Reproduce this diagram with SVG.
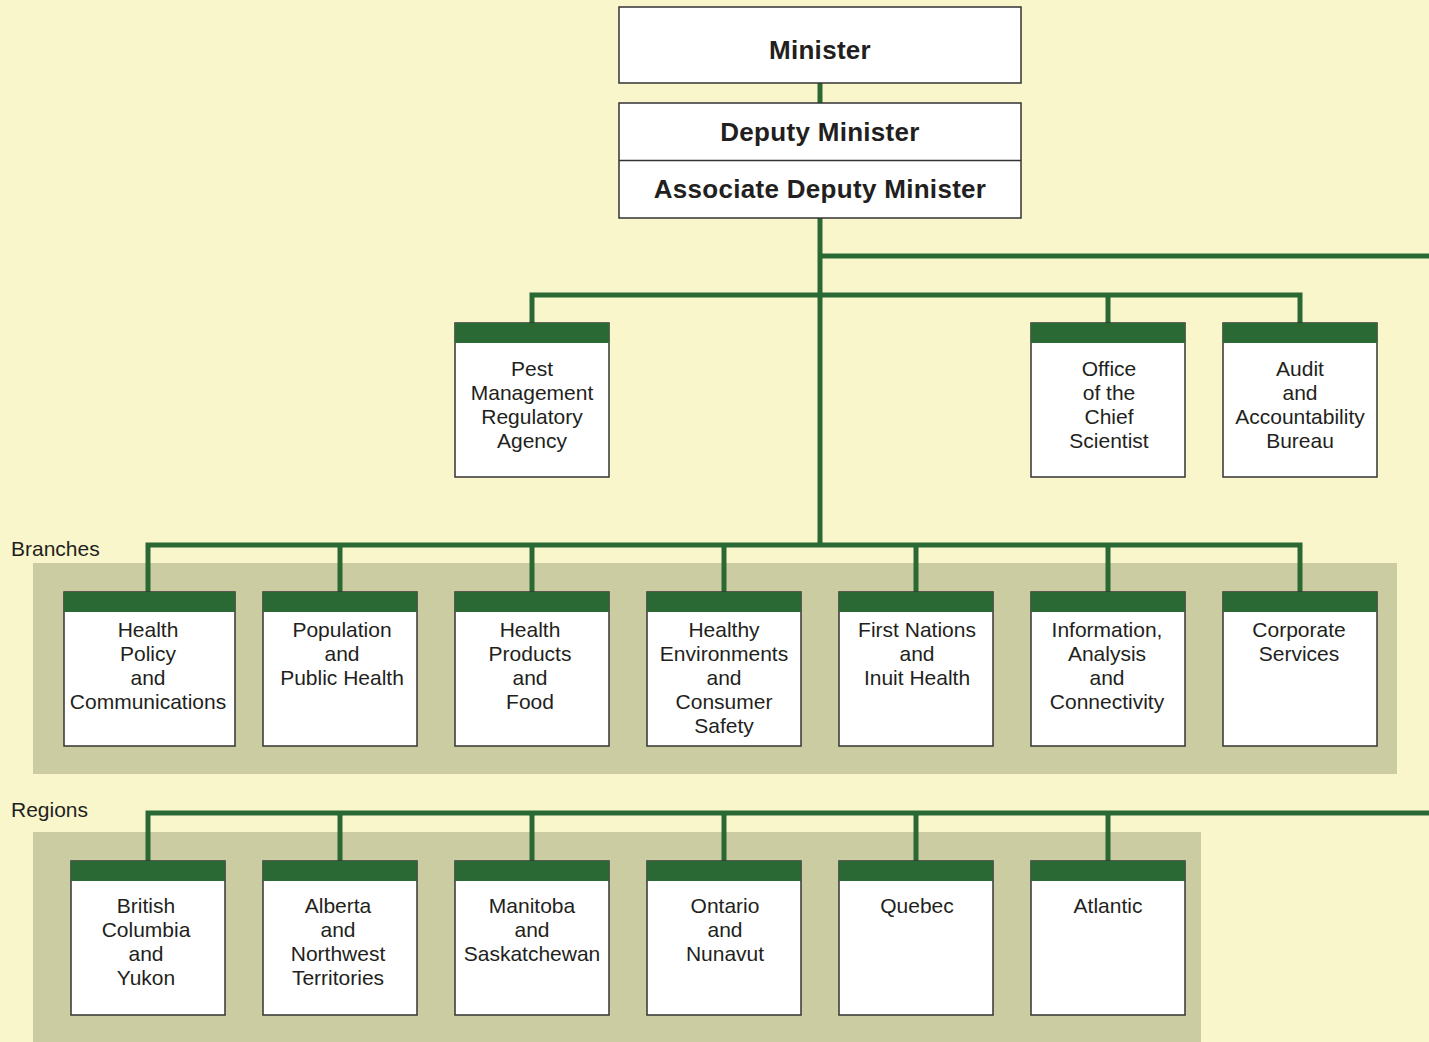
<svg xmlns="http://www.w3.org/2000/svg" width="1429" height="1042" viewBox="0 0 1429 1042">
<style>
.bg{fill:#F9F6CC}
.panel{fill:#CCCCA3}
.box{fill:#FFFFFF;stroke:#333333;stroke-width:1.5}
.hdr{fill:#2A6834}
.conn{stroke:#2A6834;stroke-width:5;fill:none;stroke-linecap:butt}
.t{font-family:"Liberation Sans",Arial,sans-serif;font-size:21px;fill:#231F20;text-anchor:middle}
.tb{font-family:"Liberation Sans",Arial,sans-serif;font-size:26px;font-weight:bold;fill:#231F20;text-anchor:middle;letter-spacing:0.3px}
.lbl{font-family:"Liberation Sans",Arial,sans-serif;font-size:21px;fill:#231F20}
</style>
<rect class="bg" x="0" y="0" width="1429" height="1042"/>
<rect class="panel" x="33" y="563" width="1364" height="211"/>
<rect class="panel" x="33" y="832" width="1168" height="210"/>
<text class="lbl" x="11" y="556">Branches</text>
<text class="lbl" x="11" y="817">Regions</text>

<g id="connectors">
<path class="conn" d="M820 83V103"/>
<path class="conn" d="M820 218V547"/>
<path class="conn" d="M820 256H1429"/>
<path class="conn" d="M532 323V295H1300V323M1108 295V323"/>
<path class="conn" d="M148 592V545H1300V592M340 545V592M532 545V592M724 545V592M916 545V592M1108 545V592"/>
<path class="conn" d="M148 861V813H1429M340 813V861M532 813V861M724 813V861M916 813V861M1108 813V861"/>
</g>

<g id="minister">
<rect class="box" x="619" y="7" width="402" height="76"/>
<text class="tb" x="820" y="59">Minister</text>
</g>
<g id="deputy-minister">
<rect class="box" x="619" y="103" width="402" height="115"/>
<line x1="619" y1="160.5" x2="1021" y2="160.5" stroke="#333333" stroke-width="1.5"/>
<text class="tb" x="820" y="141">Deputy Minister</text>
<text class="tb" x="820" y="198">Associate Deputy Minister</text>
</g>

<g id="pmra">
<rect class="box" x="455" y="323" width="154" height="154"/>
<rect class="hdr" x="455" y="323" width="154" height="20"/>
<text class="t" x="532" y="376">Pest</text>
<text class="t" x="532" y="400">Management</text>
<text class="t" x="532" y="424">Regulatory</text>
<text class="t" x="532" y="448">Agency</text>
</g>
<g id="ocs">
<rect class="box" x="1031" y="323" width="154" height="154"/>
<rect class="hdr" x="1031" y="323" width="154" height="20"/>
<text class="t" x="1109" y="376">Office</text>
<text class="t" x="1109" y="400">of the</text>
<text class="t" x="1109" y="424">Chief</text>
<text class="t" x="1109" y="448">Scientist</text>
</g>
<g id="aab">
<rect class="box" x="1223" y="323" width="154" height="154"/>
<rect class="hdr" x="1223" y="323" width="154" height="20"/>
<text class="t" x="1300" y="376">Audit</text>
<text class="t" x="1300" y="400">and</text>
<text class="t" x="1300" y="424">Accountability</text>
<text class="t" x="1300" y="448">Bureau</text>
</g>

<g id="hpc">
<rect class="box" x="64" y="592" width="171" height="154"/>
<rect class="hdr" x="64" y="592" width="171" height="20"/>
<text class="t" x="148" y="637">Health</text>
<text class="t" x="148" y="661">Policy</text>
<text class="t" x="148" y="685">and</text>
<text class="t" x="148" y="709">Communications</text>
</g>
<g id="pph">
<rect class="box" x="263" y="592" width="154" height="154"/>
<rect class="hdr" x="263" y="592" width="154" height="20"/>
<text class="t" x="342" y="637">Population</text>
<text class="t" x="342" y="661">and</text>
<text class="t" x="342" y="685">Public Health</text>
</g>
<g id="hpf">
<rect class="box" x="455" y="592" width="154" height="154"/>
<rect class="hdr" x="455" y="592" width="154" height="20"/>
<text class="t" x="530" y="637">Health</text>
<text class="t" x="530" y="661">Products</text>
<text class="t" x="530" y="685">and</text>
<text class="t" x="530" y="709">Food</text>
</g>
<g id="hecs">
<rect class="box" x="647" y="592" width="154" height="154"/>
<rect class="hdr" x="647" y="592" width="154" height="20"/>
<text class="t" x="724" y="637">Healthy</text>
<text class="t" x="724" y="661">Environments</text>
<text class="t" x="724" y="685">and</text>
<text class="t" x="724" y="709">Consumer</text>
<text class="t" x="724" y="733">Safety</text>
</g>
<g id="fnih">
<rect class="box" x="839" y="592" width="154" height="154"/>
<rect class="hdr" x="839" y="592" width="154" height="20"/>
<text class="t" x="917" y="637">First Nations</text>
<text class="t" x="917" y="661">and</text>
<text class="t" x="917" y="685">Inuit Health</text>
</g>
<g id="iac">
<rect class="box" x="1031" y="592" width="154" height="154"/>
<rect class="hdr" x="1031" y="592" width="154" height="20"/>
<text class="t" x="1107" y="637">Information,</text>
<text class="t" x="1107" y="661">Analysis</text>
<text class="t" x="1107" y="685">and</text>
<text class="t" x="1107" y="709">Connectivity</text>
</g>
<g id="cs">
<rect class="box" x="1223" y="592" width="154" height="154"/>
<rect class="hdr" x="1223" y="592" width="154" height="20"/>
<text class="t" x="1299" y="637">Corporate</text>
<text class="t" x="1299" y="661">Services</text>
</g>

<g id="bcy">
<rect class="box" x="71" y="861" width="154" height="154"/>
<rect class="hdr" x="71" y="861" width="154" height="20"/>
<text class="t" x="146" y="913">British</text>
<text class="t" x="146" y="937">Columbia</text>
<text class="t" x="146" y="961">and</text>
<text class="t" x="146" y="985">Yukon</text>
</g>
<g id="abnwt">
<rect class="box" x="263" y="861" width="154" height="154"/>
<rect class="hdr" x="263" y="861" width="154" height="20"/>
<text class="t" x="338" y="913">Alberta</text>
<text class="t" x="338" y="937">and</text>
<text class="t" x="338" y="961">Northwest</text>
<text class="t" x="338" y="985">Territories</text>
</g>
<g id="mbsk">
<rect class="box" x="455" y="861" width="154" height="154"/>
<rect class="hdr" x="455" y="861" width="154" height="20"/>
<text class="t" x="532" y="913">Manitoba</text>
<text class="t" x="532" y="937">and</text>
<text class="t" x="532" y="961">Saskatchewan</text>
</g>
<g id="onnu">
<rect class="box" x="647" y="861" width="154" height="154"/>
<rect class="hdr" x="647" y="861" width="154" height="20"/>
<text class="t" x="725" y="913">Ontario</text>
<text class="t" x="725" y="937">and</text>
<text class="t" x="725" y="961">Nunavut</text>
</g>
<g id="qc">
<rect class="box" x="839" y="861" width="154" height="154"/>
<rect class="hdr" x="839" y="861" width="154" height="20"/>
<text class="t" x="917" y="913">Quebec</text>
</g>
<g id="atl">
<rect class="box" x="1031" y="861" width="154" height="154"/>
<rect class="hdr" x="1031" y="861" width="154" height="20"/>
<text class="t" x="1108" y="913">Atlantic</text>
</g>
</svg>
